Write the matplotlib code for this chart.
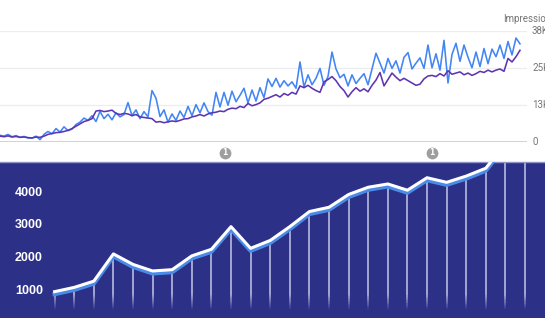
import numpy as np
import matplotlib
matplotlib.use("Agg")
import matplotlib.pyplot as plt
from matplotlib.collections import LineCollection
from matplotlib import transforms

# ---- top chart: daily clicks / impressions (in thousands, sampled) ----
blue_k = [
    2.3, 2.0, 2.6, 1.8, 2.2, 1.6, 1.9, 1.4, 1.3, 2.0,
    0.8, 2.6, 3.6, 2.8, 4.6, 3.4, 5.2, 3.9, 4.4, 6.0,
    6.8, 8.2, 7.4, 9.0, 7.0, 10.5, 8.0, 9.5, 7.6, 10.0,
    8.6, 9.4, 13.5, 9.0, 11.0, 8.0, 10.4, 8.6, 17.6, 15.0,
    8.7, 11.0, 6.8, 9.6, 7.4, 10.6, 8.4, 12.2, 9.0, 12.8,
    10.0, 13.4, 10.4, 9.2, 17.0, 12.0, 17.0, 12.6, 17.4, 13.8,
    16.0, 18.4, 13.4, 17.8, 14.0, 18.6, 15.2, 21.6, 19.0, 21.8,
    18.8, 21.0, 19.2, 20.6, 18.4, 27.4, 18.8, 23.0, 19.6, 21.8,
    25.2, 19.4, 22.4, 30.8, 25.0, 22.0, 23.2, 19.2, 23.0, 20.0,
    21.8, 23.4, 19.6, 25.0, 30.4, 27.0, 23.6, 28.6, 25.2, 27.8,
    23.6, 29.0, 30.6, 25.0, 27.0, 28.8, 25.2, 33.2, 25.4, 30.2,
    24.6, 34.8, 20.2, 30.0, 33.8, 27.6, 33.2, 29.0, 25.4, 30.8,
    25.8, 32.0, 26.8, 31.8, 29.2, 33.2, 28.6, 34.4, 29.8, 35.6,
    33.6,
]
purple_k = [
    2.0, 1.8, 2.1, 1.7, 1.9, 1.6, 1.7, 1.5, 1.4, 1.7,
    1.6, 2.0, 2.6, 2.9, 3.2, 3.3, 3.6, 4.0, 4.6, 5.4,
    6.2, 7.0, 7.4, 8.0, 10.6, 10.8, 10.4, 10.6, 10.9, 9.8,
    9.4, 9.8, 9.6, 9.0, 9.4, 8.6, 8.4, 8.2, 8.0, 6.8,
    7.0, 6.6, 6.9, 7.2, 7.0, 7.4, 7.9, 8.0, 8.6, 8.9,
    9.4, 8.9, 9.6, 10.0, 10.2, 10.6, 10.4, 11.2, 11.6, 11.4,
    12.2, 11.8, 13.2, 12.4, 12.8, 13.4, 14.6, 15.0, 15.6, 16.2,
    15.4, 16.6, 16.0, 17.0, 16.4, 19.2, 18.6, 19.4, 18.4, 17.6,
    17.0, 20.6, 21.4, 22.4, 21.0, 19.0, 17.6, 15.4, 17.2, 18.6,
    17.4, 18.2, 17.2, 19.4, 21.2, 23.8, 19.2, 21.4, 23.6, 22.2,
    21.0, 21.8, 21.0, 20.2, 19.4, 19.8, 21.6, 22.6, 22.8, 22.4,
    23.4, 22.6, 24.4, 23.2, 23.6, 24.0, 23.0, 23.6, 22.8, 23.4,
    24.2, 23.8, 24.6, 24.0, 24.6, 25.0, 24.2, 28.6, 27.4, 29.2,
    31.4,
]
top_ticks = [0, 38 / 3, 76 / 3, 38]
top_tick_labels = ["0", "13K", "25K", "38K"]
annotation_days = [56.25, 108]

# ---- bottom chart: growth line ----
growth = [980, 1110, 1300, 2130, 1810, 1610, 1650, 2070, 2270, 2960,
          2300, 2540, 2960, 3420, 3550, 3940, 4160, 4260, 4070, 4450,
          4310, 4500, 4740, 5500, 5900]
growth_ticks = [1000, 2000, 3000, 4000]

W, H = 545, 318
fig = plt.figure(figsize=(W / 100, H / 100), dpi=100)


def px_rect(x0, y0, x1, y1):
    return [x0 / W, 1 - y1 / H, (x1 - x0) / W, (y1 - y0) / H]


# top chart
top = fig.add_axes(px_rect(0, 31, 527, 142))
top.set_xlim(0, 131.75)
top.set_ylim(0, 38)
top.axis("off")
for v in top_ticks[1:]:
    top.axhline(v, color="#ededed", lw=0.9, zorder=0)
top.axhline(0, color="#c6c6c6", lw=1.1, zorder=1)

days = np.arange(len(blue_k))
top.plot(days, blue_k, color="#4285f4", lw=1.15, zorder=3)
top.plot(days, purple_k, color="#5e35b1", lw=1.15, zorder=4)

ylab_tr = transforms.blended_transform_factory(top.transAxes, top.transData)
for v, lab in zip(top_ticks, top_tick_labels):
    top.text(1.0095, v, lab, transform=ylab_tr, ha="left", va="center",
             fontsize=7, color="#757575", family="Roboto")
top.text(503 / 527, 1.108, "Impressions", transform=top.transAxes,
         ha="left", va="center", fontsize=7, color="#757575", family="Roboto")

ann_tr = transforms.blended_transform_factory(top.transData, top.transAxes)
for d in annotation_days:
    top.plot(d, -0.099, "o", ms=8.5, color="#9e9e9e", mec="none",
             transform=ann_tr, clip_on=False)
    top.text(d, -0.099, "1", transform=ann_tr, ha="center", va="center",
             fontsize=5.5, color="white", fontweight="bold")

# bottom panel
bot = fig.add_axes(px_rect(0, 162, 545, 318))
bot.set_facecolor("#2c3086")
bot.set_xlim(-2.786, 25.02)
bot.set_ylim(177.6, 4929)
for side in ["left", "right", "bottom"]:
    bot.spines[side].set_visible(False)
bot.spines["top"].set_color("#8f94c8")
bot.spines["top"].set_linewidth(1.0)
bot.set_xticks([])
bot.set_yticks([])

x = np.arange(len(growth))

# fading drop lines
fade_top, fade_bot = 909, 421
segs, cols = [], []
for xi, v in zip(x, growth):
    ys = np.linspace(v, 177.6, 80)
    for a, b in zip(ys[:-1], ys[1:]):
        m = (a + b) / 2
        alpha = np.clip((m - fade_bot) / (fade_top - fade_bot), 0, 1) * 0.8
        segs.append([(xi, a), (xi, b)])
        cols.append((0.86, 0.87, 0.96, alpha))
bot.add_collection(LineCollection(segs, colors=cols, linewidths=1.2, zorder=2))

shadow = transforms.offset_copy(bot.transData, fig=fig, x=0, y=-2.5, units="dots")
bot.plot(x, growth, color="#4a8be8", lw=3.0, transform=shadow, zorder=3,
         solid_joinstyle="round")
bot.plot(x, growth, color="white", lw=2.2, zorder=4, solid_joinstyle="round")

lab_tr = transforms.blended_transform_factory(bot.transAxes, bot.transData)
for v in growth_ticks:
    bot.text(15 / 545, v, str(v), transform=lab_tr, ha="left", va="center",
             fontsize=9, fontweight="bold", color="white", family="Liberation Sans")

fig.savefig("out.png", dpi=100)
